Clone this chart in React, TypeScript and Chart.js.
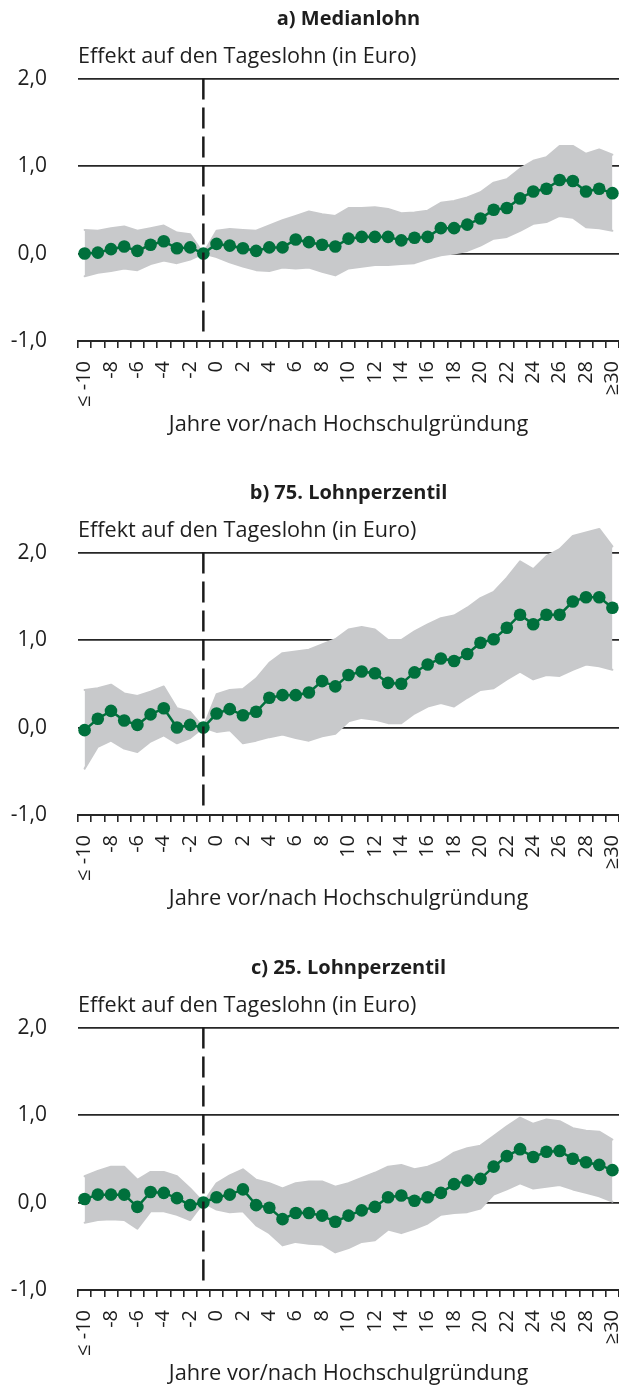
import React, { useEffect, useRef } from 'react';
import { Chart, registerables } from 'chart.js';

Chart.register(...registerables);

const YEARS = ['≤ -10', '-9', '-8', '-7', '-6', '-5', '-4', '-3', '-2', '-1', '0', '1', '2', '3', '4', '5', '6', '7', '8', '9', '10', '11', '12', '13', '14', '15', '16', '17', '18', '19', '20', '21', '22', '23', '24', '25', '26', '27', '28', '29', '≥30'];

const Y_AXIS_TITLE = 'Effekt auf den Tageslohn (in Euro)';
const X_AXIS_TITLE = 'Jahre vor/nach Hochschulgründung';
const REFERENCE_YEAR = '-1';
const Y_MIN = -1;
const Y_MAX = 2.4;

const MEDIAN_TITLE = 'a) Medianlohn';
const MEDIAN_EST = [0.00, 0.01, 0.05, 0.08, 0.03, 0.10, 0.14, 0.06, 0.07, 0.00, 0.11, 0.09, 0.06, 0.03, 0.07, 0.07, 0.16, 0.13, 0.10, 0.08, 0.17, 0.19, 0.19, 0.19, 0.15, 0.18, 0.19, 0.29, 0.29, 0.33, 0.40, 0.50, 0.52, 0.63, 0.71, 0.74, 0.84, 0.83, 0.71, 0.74, 0.69];
const MEDIAN_UPPER = [0.27, 0.26, 0.29, 0.31, 0.26, 0.29, 0.32, 0.24, 0.22, 0.00, 0.26, 0.28, 0.27, 0.26, 0.32, 0.38, 0.43, 0.48, 0.45, 0.43, 0.52, 0.52, 0.53, 0.51, 0.46, 0.47, 0.49, 0.58, 0.60, 0.64, 0.70, 0.81, 0.85, 0.97, 1.06, 1.10, 1.23, 1.23, 1.14, 1.19, 1.13];
const MEDIAN_LOWER = [-0.26, -0.22, -0.20, -0.17, -0.19, -0.12, -0.08, -0.11, -0.07, 0.00, -0.04, -0.10, -0.15, -0.19, -0.20, -0.16, -0.17, -0.16, -0.21, -0.25, -0.17, -0.15, -0.13, -0.13, -0.12, -0.11, -0.06, -0.02, 0.00, 0.03, 0.09, 0.17, 0.19, 0.26, 0.34, 0.36, 0.43, 0.41, 0.30, 0.29, 0.26];

const P75_TITLE = 'b) 75. Lohnperzentil';
const P75_EST = [-0.03, 0.10, 0.19, 0.08, 0.03, 0.15, 0.22, 0.00, 0.03, 0.00, 0.16, 0.21, 0.14, 0.18, 0.34, 0.37, 0.37, 0.40, 0.53, 0.47, 0.60, 0.64, 0.62, 0.51, 0.50, 0.63, 0.72, 0.79, 0.76, 0.84, 0.97, 1.01, 1.14, 1.29, 1.18, 1.29, 1.29, 1.44, 1.49, 1.49, 1.37];
const P75_UPPER = [0.43, 0.45, 0.49, 0.39, 0.36, 0.41, 0.47, 0.22, 0.18, 0.00, 0.38, 0.43, 0.44, 0.56, 0.74, 0.85, 0.87, 0.89, 0.95, 1.01, 1.12, 1.15, 1.12, 1.00, 1.00, 1.10, 1.18, 1.25, 1.28, 1.37, 1.48, 1.55, 1.71, 1.90, 1.81, 1.96, 2.04, 2.19, 2.23, 2.27, 2.07];
const P75_LOWER = [-0.47, -0.22, -0.15, -0.24, -0.28, -0.16, -0.09, -0.18, -0.12, 0.00, -0.05, -0.03, -0.18, -0.15, -0.11, -0.08, -0.12, -0.15, -0.10, -0.07, 0.07, 0.11, 0.09, 0.05, 0.05, 0.16, 0.24, 0.28, 0.24, 0.34, 0.43, 0.45, 0.55, 0.64, 0.55, 0.60, 0.59, 0.66, 0.72, 0.70, 0.66];

const P25_TITLE = 'c) 25. Lohnperzentil';
const P25_EST = [0.04, 0.09, 0.09, 0.09, -0.05, 0.12, 0.11, 0.05, -0.03, 0.00, 0.06, 0.09, 0.15, -0.03, -0.06, -0.19, -0.12, -0.12, -0.15, -0.22, -0.15, -0.09, -0.05, 0.06, 0.08, 0.02, 0.06, 0.11, 0.21, 0.25, 0.27, 0.41, 0.53, 0.61, 0.52, 0.58, 0.59, 0.50, 0.46, 0.43, 0.37];
const P25_UPPER = [0.30, 0.36, 0.41, 0.41, 0.26, 0.35, 0.35, 0.30, 0.16, 0.00, 0.22, 0.31, 0.38, 0.26, 0.22, 0.16, 0.22, 0.24, 0.24, 0.18, 0.22, 0.28, 0.34, 0.41, 0.43, 0.38, 0.41, 0.47, 0.57, 0.62, 0.65, 0.76, 0.87, 0.97, 0.90, 0.95, 0.93, 0.85, 0.82, 0.81, 0.72];
const P25_LOWER = [-0.23, -0.20, -0.19, -0.20, -0.30, -0.10, -0.10, -0.14, -0.20, 0.00, -0.08, -0.11, -0.10, -0.26, -0.35, -0.49, -0.45, -0.47, -0.48, -0.57, -0.52, -0.45, -0.43, -0.31, -0.35, -0.30, -0.24, -0.14, -0.12, -0.11, -0.07, 0.09, 0.15, 0.22, 0.16, 0.18, 0.20, 0.15, 0.11, 0.07, 0.01];

const FONT = '"Open Sans", "Noto Sans", sans-serif';
const TEXT = '#1e1e1e';
const AXIS = '#262626';
const GREEN = '#00703c';
const GRAY = '#c8c9cb';

type PanelProps = { title: string; est: number[]; upper: number[]; lower: number[]; top: number };

function Panel({ title, est, upper, lower, top }: PanelProps) {
  const ref = useRef<HTMLCanvasElement>(null);
  useEffect(() => {
    if (!ref.current) return;
    const chart = new Chart(ref.current, {
      type: 'line',
      data: {
        labels: YEARS,
        datasets: [
          {
            label: 'Referenzjahr',
            data: [{ x: REFERENCE_YEAR, y: 2 }, { x: REFERENCE_YEAR, y: -0.91 }] as any,
            borderColor: '#1a1a1a',
            borderWidth: 2.5,
            borderDash: [21, 8],
            pointRadius: 0,
            fill: false,
            order: 0,
          },
          {
            label: 'Effekt',
            data: est,
            borderColor: GREEN,
            backgroundColor: GREEN,
            borderWidth: 2.5,
            pointRadius: 6.3,
            pointBackgroundColor: GREEN,
            pointBorderWidth: 0,
            fill: false,
            order: 1,
          },
          {
            label: 'Obere Grenze',
            data: upper,
            borderColor: GRAY,
            backgroundColor: GRAY,
            borderWidth: 2,
            borderJoinStyle: 'round',
            borderCapStyle: 'round',
            pointRadius: 0,
            fill: '+1',
            order: 2,
          },
          {
            label: 'Untere Grenze',
            data: lower,
            borderColor: GRAY,
            backgroundColor: GRAY,
            borderWidth: 2,
            borderJoinStyle: 'round',
            borderCapStyle: 'round',
            pointRadius: 0,
            fill: false,
            order: 3,
          },
        ],
      },
      options: {
        responsive: true,
        maintainAspectRatio: false,
        animation: false,
        layout: { padding: 0, autoPadding: false },
        plugins: {
          legend: { display: false },
          tooltip: { enabled: false },
          title: {
            display: true,
            text: title,
            fullSize: false,
            align: 'center',
            color: TEXT,
            font: { family: FONT, size: 20, weight: 'bold', lineHeight: 1.2 },
            padding: { top: 7, bottom: 6 },
          },
          subtitle: {
            display: true,
            text: Y_AXIS_TITLE,
            fullSize: false,
            align: 'start',
            color: TEXT,
            font: { family: FONT, size: 21.6, lineHeight: 1.2 },
            padding: { top: 6, bottom: -26 },
          },
        },
        scales: {
          x: {
            type: 'category',
            offset: true,
            grid: {
              display: true,
              drawOnChartArea: false,
              drawTicks: true,
              tickLength: 7,
              offset: true,
              color: AXIS,
              lineWidth: 1.6,
            },
            border: { display: true, color: AXIS, width: 2 },
            ticks: {
              autoSkip: false,
              maxRotation: 90,
              minRotation: 90,
              padding: 13,
              color: TEXT,
              font: { family: FONT, size: 20 },
              callback: (_v: any, i: number) => (i % 2 === 0 ? YEARS[i] : ''),
            },
            title: {
              display: true,
              text: X_AXIS_TITLE,
              color: TEXT,
              font: { family: FONT, size: 21.8, lineHeight: 1.2 },
              padding: { top: 0, bottom: 37 },
            },
            afterFit: (s: any) => {
              s.height = 134;
              s.paddingLeft = 0;
              s.paddingRight = 0;
            },
          },
          y: {
            min: Y_MIN,
            max: Y_MAX,
            ticks: {
              stepSize: 1,
              padding: 31,
              color: TEXT,
              font: { family: FONT, size: 21 },
              callback: (v: any) => Number(v).toFixed(1).replace('.', ','),
            },
            afterBuildTicks: (s: any) => {
              s.ticks = s.ticks.filter((t: any) => Math.abs(t.value - Math.round(t.value)) < 1e-9);
            },
            grid: {
              drawTicks: false,
              color: (ctx: any) => (ctx.tick && ctx.tick.value === -1 ? 'rgba(0,0,0,0)' : AXIS),
              lineWidth: 1.8,
            },
            border: { display: false },
            afterFit: (s: any) => {
              s.width = 78;
            },
          },
        },
      } as any,
    });
    return () => chart.destroy();
  }, [title, est, upper, lower]);
  return (
    <div style={{ position: 'absolute', left: 0, top, width: 619, height: 475 }}>
      <canvas ref={ref} />
    </div>
  );
}

export default function App() {
  return (
    <div style={{ position: 'absolute', left: 0, top: 0, width: 619, height: 1389, overflow: 'hidden', background: '#fff' }}>
      <Panel title={MEDIAN_TITLE} est={MEDIAN_EST} upper={MEDIAN_UPPER} lower={MEDIAN_LOWER} top={0} />
      <Panel title={P75_TITLE} est={P75_EST} upper={P75_UPPER} lower={P75_LOWER} top={474} />
      <Panel title={P25_TITLE} est={P25_EST} upper={P25_UPPER} lower={P25_LOWER} top={949} />
    </div>
  );
}
